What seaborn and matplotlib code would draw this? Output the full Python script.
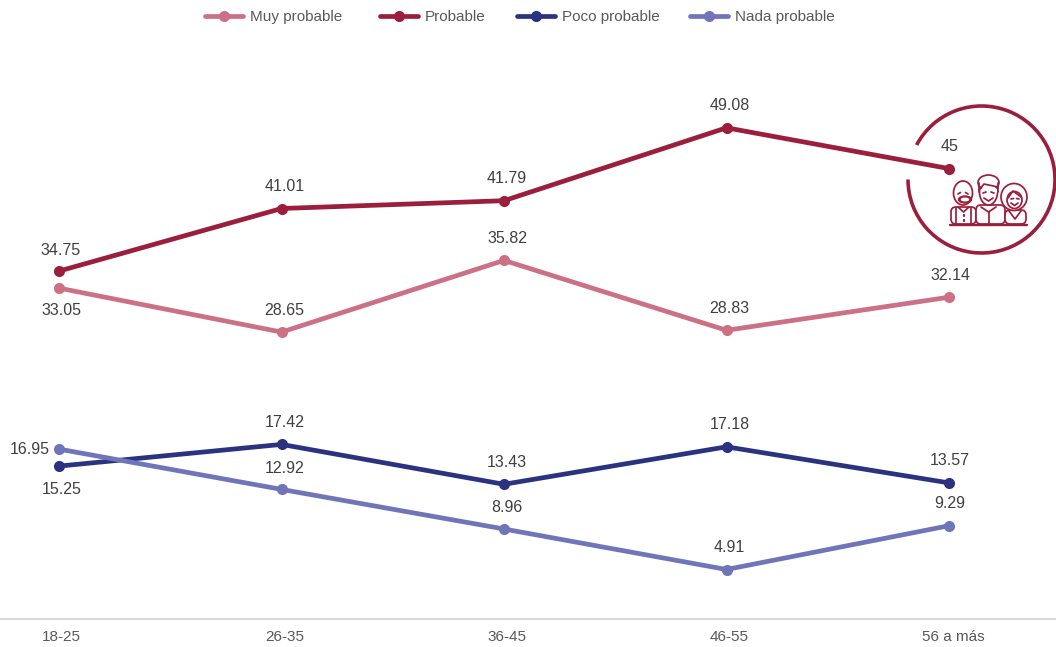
import matplotlib
matplotlib.use("Agg")
import matplotlib.pyplot as plt
from matplotlib.patches import Arc, Circle, Ellipse, FancyBboxPatch
from matplotlib.transforms import ScaledTranslation
import seaborn as sns
import pandas as pd

categories = ["18-25", "26-35", "36-45", "46-55", "56 a más"]
muy_probable = [33.05, 28.65, 35.82, 28.83, 32.14]
probable = [34.75, 41.01, 41.79, 49.08, 45]
poco_probable = [15.25, 17.42, 13.43, 17.18, 13.57]
nada_probable = [16.95, 12.92, 8.96, 4.91, 9.29]
series_names = ["Muy probable", "Probable", "Poco probable", "Nada probable"]
series_values = [muy_probable, probable, poco_probable, nada_probable]
colors = ["#CC7085", "#9B1F3C", "#2B3380", "#7074B8"]

# label offsets in pixels, one list per series
offsets = [
    [(2, -22), (3, 22), (3, 22), (3, 22), (1, 22)],
    [(2, 21), (3, 22), (3, 22), (3, 22), (1, 22)],
    [(3, -23), (3, 22), (3, 22), (3, 22), (1, 22)],
    [(-29, 0), (3, 21), (3, 22), (3, 22), (1, 22)],
]
tick_shift_px = [2, 3, 3, 3, 4]
legend_left_px = [205, 380, 517, 690]

sns.set_theme(style="white")
plt.rcParams["font.family"] = ["Liberation Sans", "DejaVu Sans"]

df = pd.DataFrame(
    [(c, i, n, v[i]) for n, v in zip(series_names, series_values) for i, c in enumerate(categories)],
    columns=["grupo", "pos", "serie", "valor"],
)

W, H = 1056, 647
fig = plt.figure(figsize=(W / 100, H / 100), dpi=100)
ax = fig.add_axes([0, (H - 618.6) / H, 1, 600 / H])
ax.patch.set_alpha(0)

sns.lineplot(
    data=df, x="pos", y="valor", hue="serie", hue_order=series_names,
    palette=colors, marker="o", markersize=8, markeredgewidth=0,
    linewidth=3.4, ax=ax, legend="brief", sort=False,
)

ax.set_xlim(-59 / 222.5, (1056 - 59) / 222.5)
ax.set_ylim(0, 60)
ax.set_xticks(range(len(categories)))
ax.set_xticklabels(categories, fontsize=11, color="#595959")
ax.set_yticks([])
ax.set_xlabel("")
ax.set_ylabel("")
ax.tick_params(axis="x", length=0, pad=8)
for lab, dx in zip(ax.get_xticklabels(), tick_shift_px):
    lab.set_transform(lab.get_transform() + ScaledTranslation(dx / 100, 0, fig.dpi_scale_trans))
for s in ["top", "left", "right"]:
    ax.spines[s].set_visible(False)
ax.spines["bottom"].set_color("#D9D9D9")
ax.spines["bottom"].set_linewidth(1.4)

for vals, offs in zip(series_values, offsets):
    for i, (v, (dx, dy)) in enumerate(zip(vals, offs)):
        ax.annotate(
            f"{v:g}", (i, v), xytext=(dx * 0.72, dy * 0.72), textcoords="offset points",
            ha="center", va="center", fontsize=11.5, color="#404040",
        )

handles, labels = ax.get_legend_handles_labels()
ax.legend_.remove()
for h, l, left in zip(handles, labels, legend_left_px):
    fig.legend(
        [h], [l], loc="center left", bbox_to_anchor=(left / W, 1 - 17 / H),
        frameon=False, fontsize=11, labelcolor="#595959", handlelength=2.5,
        handletextpad=0.45, borderpad=0, borderaxespad=0,
    )

# decorative badge, drawn on an overlay in pixel coordinates
ov = fig.add_axes([0, 0, 1, 1], zorder=-1)
ov.set_xlim(0, W)
ov.set_ylim(H, 0)
ov.axis("off")
red = "#9B1F3C"
# y axis is inverted, so the sweep runs from the upper left clockwise to the left edge
ov.add_patch(Arc((981.5, 179.5), 147, 147, theta1=-152, theta2=180, color=red, lw=2.6))

lw = 1.25
def outline(patch):
    patch.set(fill=True, facecolor="white", edgecolor=red, linewidth=lw)
    ov.add_patch(patch)

def line(xs, ys, w=lw):
    ov.plot(xs, ys, color=red, lw=w, solid_capstyle="round", scalex=False, scaley=False)

# bodies
for x0, x1, top in [(951, 976, 207), (976, 1005, 205), (1005, 1026, 210)]:
    outline(FancyBboxPatch((x0, top), x1 - x0, 224 - top, boxstyle="round,pad=0,rounding_size=5"))
line([950, 1027], [224.5, 224.5], 1.7)

# grandfather
outline(Ellipse((963, 193), 19, 24))
ov.add_patch(Ellipse((965, 199.5), 13, 7, color=red))
ov.add_patch(Ellipse((965, 199.5), 7, 2.5, color="white"))
line([955.5, 955.5], [208, 224]); line([971, 971], [208, 224])
line([958, 963.5, 969], [207, 212, 207])
line([963.5, 963.5], [215, 216], 1.6); line([963.5, 963.5], [220, 221], 1.6)
line([958, 960.5], [194, 192.5]); line([965.5, 968], [192.5, 194])

# middle person
outline(Ellipse((988.5, 192), 18, 26))
outline(Ellipse((988.5, 182.5), 21, 15))
ov.add_patch(Ellipse((989, 191), 15, 9, color="white"))
line([979, 979], [183, 192]); line([998, 998], [183, 192])
line([979, 984, 998], [190, 184, 187])
line([983, 986], [193, 192]); line([991, 994], [192, 193])
line([984, 988.5, 993], [198, 201, 198])
line([981, 988.5, 996], [207, 212, 207])
line([988.5, 988.5], [212, 224])

# woman
outline(Ellipse((1014, 197), 26, 27))
outline(Ellipse((1014.5, 200), 15, 17))
line([1008, 1013, 1021], [198, 191, 197])
line([1011, 1013.5], [199, 198.5]); line([1016.5, 1019], [198.5, 199])
line([1011, 1014.5, 1018], [203, 205.5, 203])
line([1009, 1015, 1021], [211, 219, 211])

fig.savefig("out.png", dpi=100, facecolor="white")
